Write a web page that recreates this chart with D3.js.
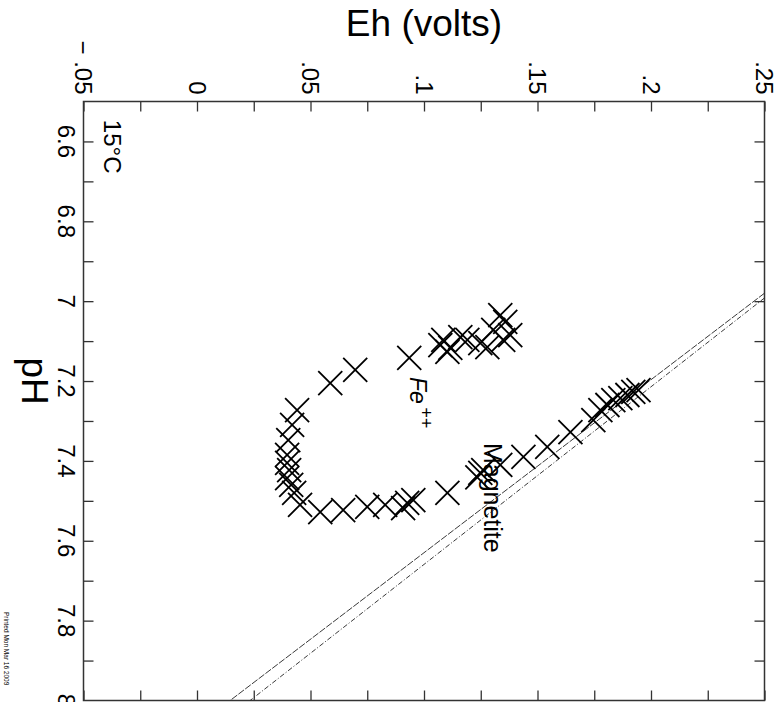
<!DOCTYPE html>
<html><head><meta charset="utf-8">
<script src="https://cdn.jsdelivr.net/npm/d3@7"></script>
<style>
body{margin:0;background:#fff}
text{font-family:"Liberation Sans",Arial,Helvetica,sans-serif;fill:#000}
</style>
</head><body>
<svg id="chart" width="779" height="702"></svg>
<script>
// ---- data ----
const ehDomain = [-0.05, 0.25];
const phDomain = [6.5, 8.0];
const ehMajorTicks = [-0.05, 0, 0.05, 0.1, 0.15, 0.2, 0.25];
const ehTickLabels = ["\u2212 .05", "0", ".05", ".1", ".15", ".2", ".25"];
const ehMinorTicks = [-0.05,-0.025,0,0.025,0.05,0.075,0.1,0.125,0.15,0.175,0.2,0.225,0.25];
const phMajorTicks = [6.6, 6.8, 7.0, 7.2, 7.4, 7.6, 7.8, 8.0];
const phTickLabels = ["6.6", "6.8", "7", "7.2", "7.4", "7.6", "7.8", "8"];
const phMinorTicks = [6.6,6.7,6.8,6.9,7.0,7.1,7.2,7.3,7.4,7.5,7.6,7.7,7.8,7.9];

// measured samples (Eh in volts, pH)
const sampleEh = [0.0935,0.1072,0.1085,0.1116,0.1103,0.1160,0.1191,0.1248,0.1279,0.1305,0.1336,0.1358,0.1380,0.1349,
  0.0697,0.0587,0.0441,0.0419,0.0402,0.0397,0.0397,0.0406,0.0397,0.0415,0.0428,0.0454,
  0.0543,0.0644,0.0750,0.0829,0.0908,0.0926,0.0953,0.1103,0.1235,0.1248,0.1261,
  0.1336,0.1438,0.1543,0.1645,0.1746,0.1777,0.1808,0.1834,0.1865,0.1896,0.1922,0.1945];
const samplePh = [7.142,7.110,7.097,7.117,7.127,7.090,7.097,7.105,7.115,7.072,7.035,7.052,7.085,7.097,
  7.172,7.205,7.273,7.310,7.348,7.385,7.405,7.423,7.443,7.460,7.480,7.510,
  7.528,7.523,7.515,7.510,7.518,7.505,7.498,7.480,7.441,7.430,7.423,
  7.410,7.390,7.365,7.328,7.298,7.273,7.260,7.248,7.243,7.235,7.227,7.223];

// Fe++ / magnetite boundaries (pH, Eh)
const boundary1Ph = [6.98, 8.0];
const boundary1Eh = [0.25, 0.0146];
const boundary2Ph = [6.992, 8.0];
const boundary2Eh = [0.25, 0.0234];

// ---- drawing ----
const svg = d3.select("#chart");
const x = d3.scaleLinear().domain(ehDomain).range([83.5, 764.5]);
const y = d3.scaleLinear().domain(phDomain).range([101.5, 700.5]);
const X0 = x.range()[0], X1 = x.range()[1], Y0 = y.range()[0], Y1 = y.range()[1];

svg.append("defs").append("clipPath").attr("id","plot")
  .append("rect").attr("x",X0).attr("y",Y0).attr("width",X1-X0).attr("height",Y1-Y0);

// ticks (inward on all four sides)
const tickStyle = g => { g.select(".domain").remove(); g.selectAll(".tick line").attr("stroke","#333").attr("stroke-width",1.3); };
svg.append("g").attr("transform",`translate(0,${Y0})`)
  .call(d3.axisTop(x).tickValues(ehMinorTicks).tickSize(-10).tickFormat("")).call(tickStyle);
svg.append("g").attr("transform",`translate(0,${Y1})`)
  .call(d3.axisBottom(x).tickValues(ehMinorTicks).tickSize(-10).tickFormat("")).call(tickStyle);
svg.append("g").attr("transform",`translate(${X0},0)`)
  .call(d3.axisLeft(y).tickValues(phMinorTicks).tickSize(-10).tickFormat("")).call(tickStyle);
svg.append("g").attr("transform",`translate(${X1},0)`)
  .call(d3.axisRight(y).tickValues(phMinorTicks).tickSize(-10).tickFormat("")).call(tickStyle);

svg.append("rect").attr("x",X0).attr("y",Y0).attr("width",X1-X0).attr("height",Y1-Y0)
  .attr("fill","none").attr("stroke","#333").attr("stroke-width",1.5);

// tick labels (rotated like the rest of the chart)
svg.append("g").selectAll("text").data(ehMajorTicks).join("text")
  .attr("transform", d => `translate(${x(d)},${Y0-7}) rotate(90)`)
  .attr("text-anchor","end").attr("dy","0.35em")
  .style("font-size","24px")
  .text((d,i) => ehTickLabels[i]);
svg.append("g").selectAll("text").data(phMajorTicks).join("text")
  .attr("transform", d => `translate(${X0-8},${y(d)}) rotate(90)`)
  .attr("text-anchor","middle").attr("dy","0.72em")
  .style("font-size","24px")
  .text((d,i) => phTickLabels[i]);

// axis titles
svg.append("text").attr("x",(X0+X1)/2).attr("y",36).attr("text-anchor","middle")
  .style("font-size","37px").text("Eh (volts)");
svg.append("text").attr("transform",`translate(49,${y(7.2)}) rotate(90)`)
  .attr("text-anchor","middle").attr("dy","0.72em").style("font-size","37px").text("pH");

// boundary lines
const line = d3.line().x(d => x(d[1])).y(d => y(d[0]));
const plot = svg.append("g").attr("clip-path","url(#plot)");
plot.append("path").datum(boundary1Ph.map((p,i)=>[p,boundary1Eh[i]]))
  .attr("d",line).attr("fill","none").attr("stroke","#222").attr("stroke-width",0.9)
  .attr("stroke-dasharray","7,1.5");
plot.append("path").datum(boundary2Ph.map((p,i)=>[p,boundary2Eh[i]]))
  .attr("d",line).attr("fill","none").attr("stroke","#222").attr("stroke-width",0.9)
  .attr("stroke-dasharray","5,2,1,2");

// sample markers (X)
const s = 12;
plot.append("g").selectAll("path").data(sampleEh.map((e,i)=>[samplePh[i],e])).join("path")
  .attr("d", d => { const cx=x(d[1]), cy=y(d[0]); return `M${cx-s},${cy-s}L${cx+s},${cy+s}M${cx-s},${cy+s}L${cx+s},${cy-s}`; })
  .attr("stroke","#000").attr("stroke-width",1.8).attr("fill","none");

// annotations
svg.append("text").attr("transform",`translate(${x(-0.0374)},${y(6.546)}) rotate(90)`)
  .attr("dy","0.35em").style("font-size","24px").text("15°C");
const fe = svg.append("text").attr("transform",`translate(${x(0.0975)},${y(7.19)}) rotate(90)`)
  .attr("dy","0.35em").style("font-size","23px").style("font-style","italic");
fe.append("tspan").text("Fe");
fe.append("tspan").attr("dy","-0.55em").attr("dx","3").style("font-size","18px").text("++");
svg.append("text").attr("transform",`translate(${x(0.1305)},${y(7.355)}) rotate(90)`)
  .attr("dy","0.35em").style("font-size","25px").text("Magnetite");

// print stamp
svg.append("text").attr("transform","translate(6,612) rotate(90)")
  .attr("dy","0.35em").style("font-size","6.5px").text("Printed Mon Mar 16 2009");
</script>
</body></html>
